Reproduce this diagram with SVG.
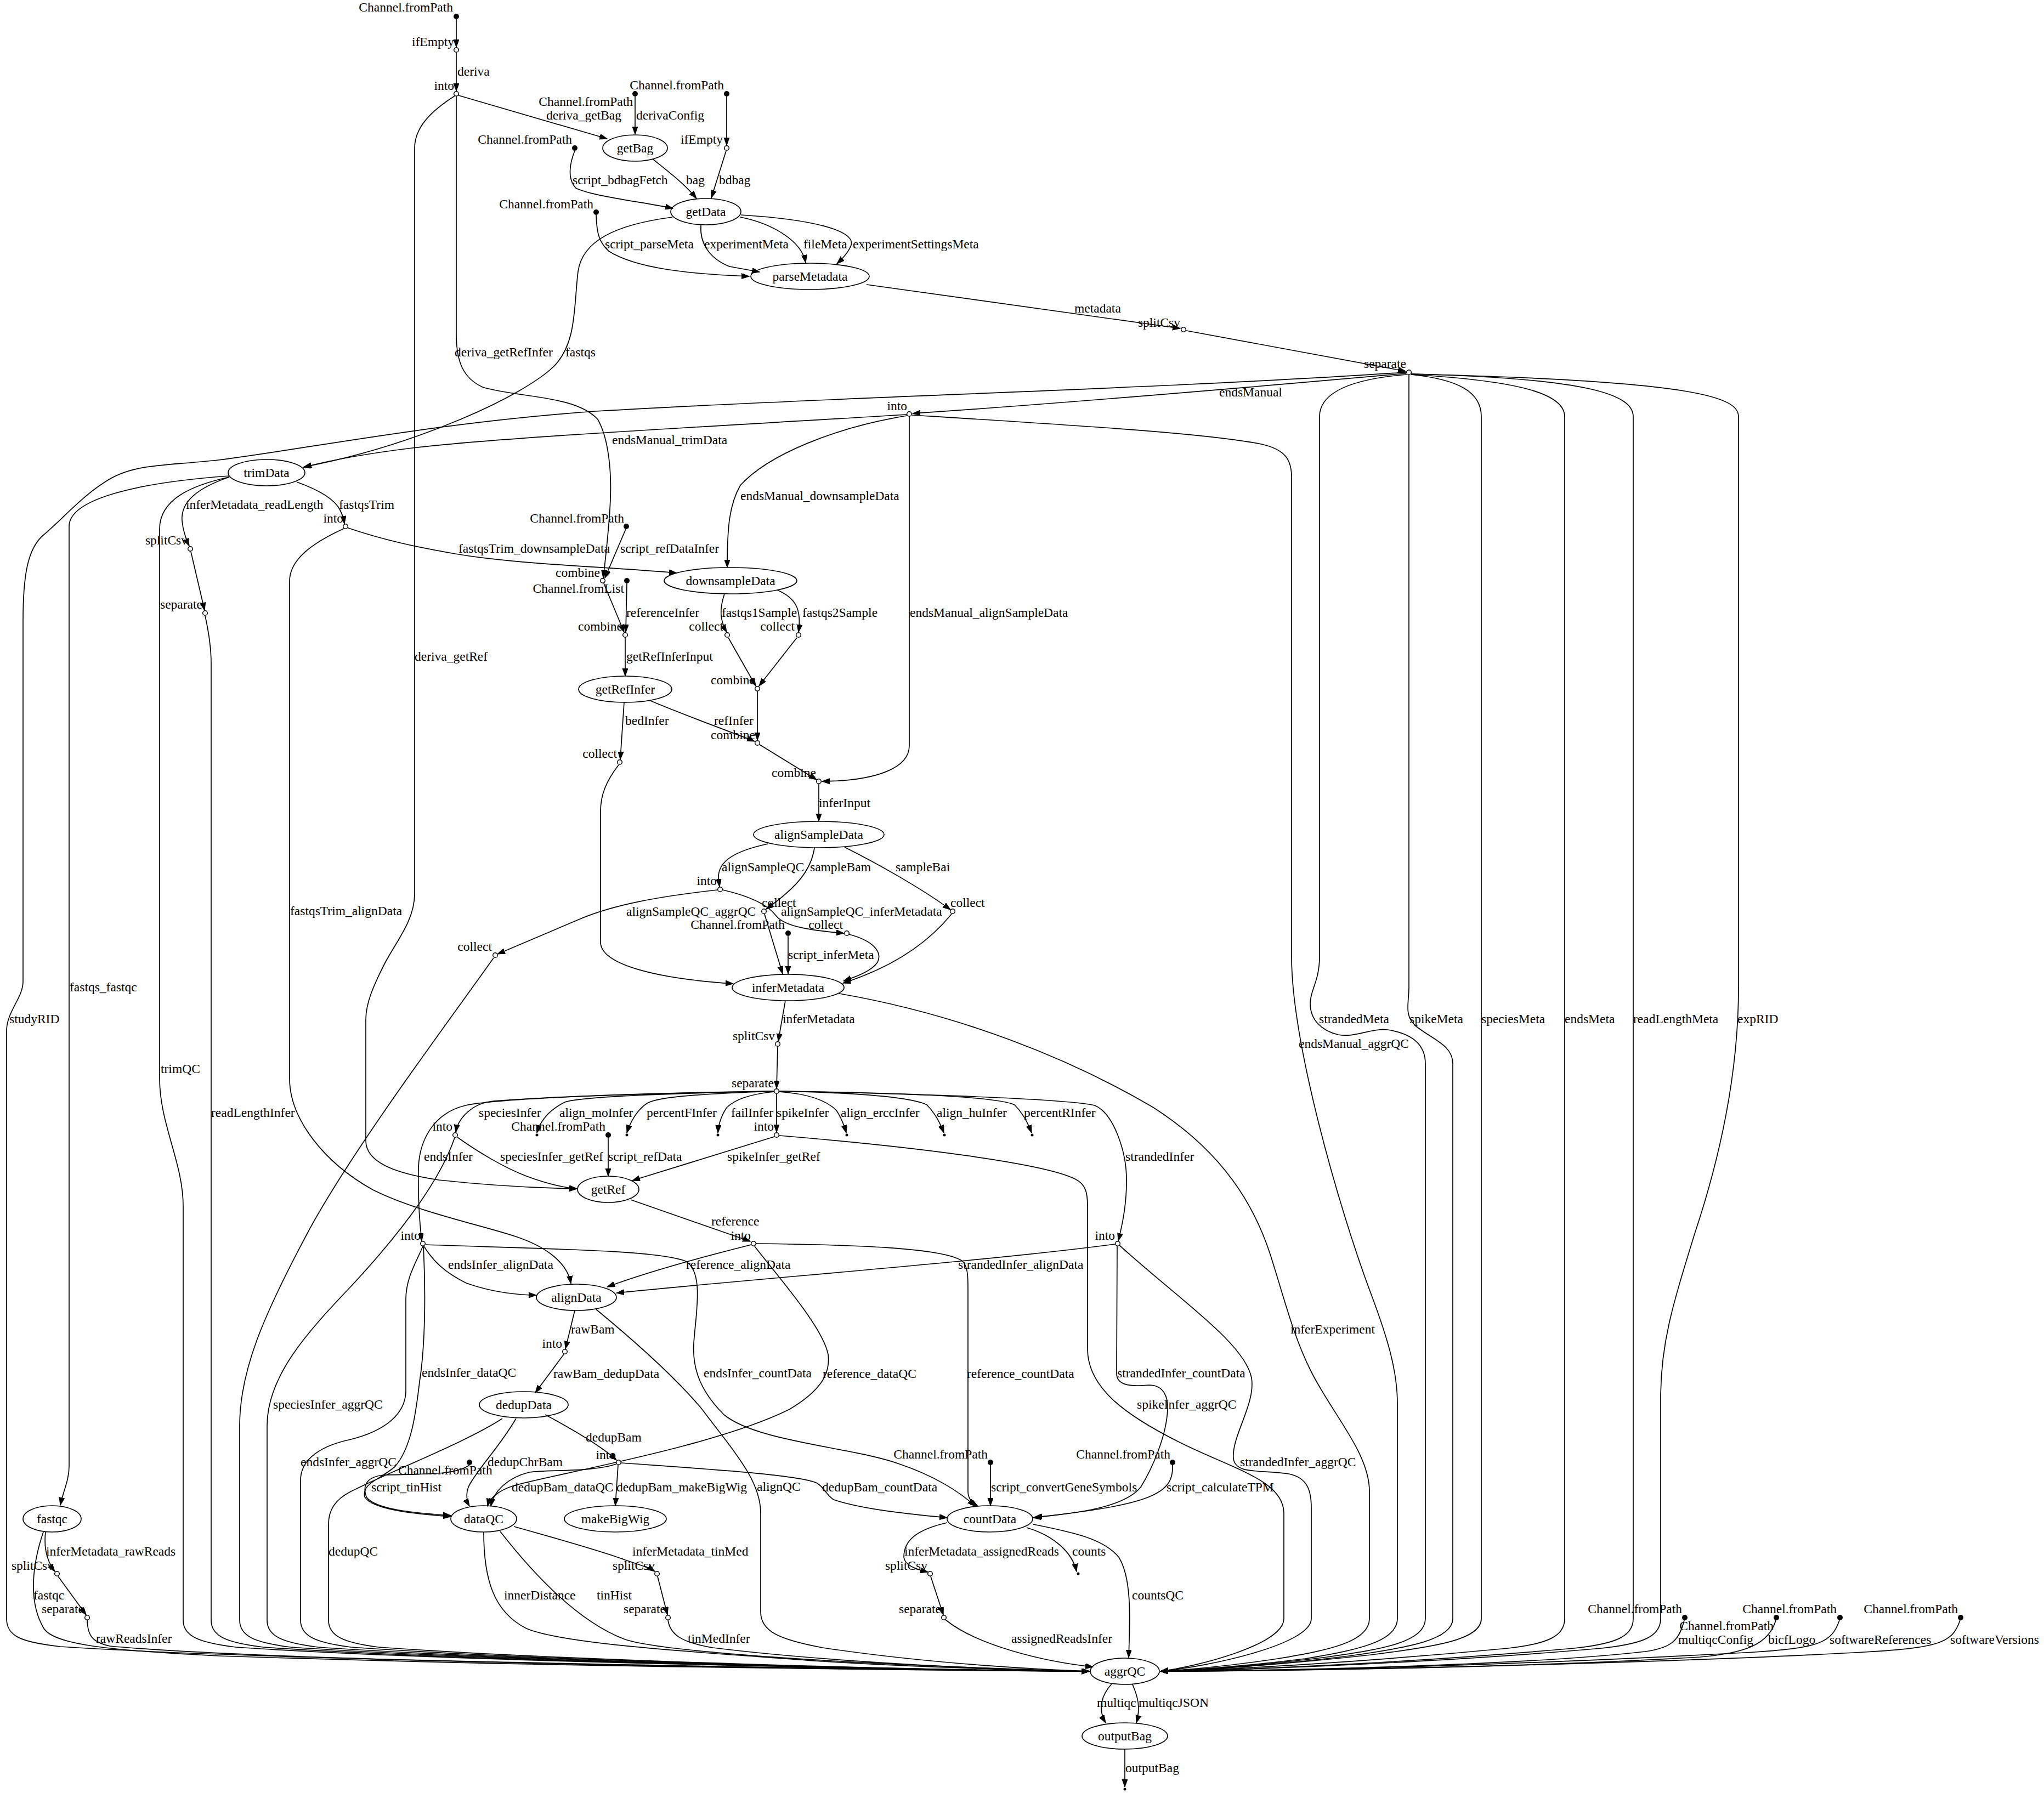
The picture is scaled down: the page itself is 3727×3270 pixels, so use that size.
<svg xmlns="http://www.w3.org/2000/svg" width="3727" height="3270" viewBox="0 0 3727 3270">
<style>
text{font-family:"Liberation Serif","Times New Roman",serif;font-size:23.5px;fill:#000}
.e path{fill:none;stroke:#000;stroke-width:1.7;marker-end:url(#ah)}
.n ellipse{fill:none;stroke:#000;stroke-width:1.7}
.n text{text-anchor:middle}
.op{fill:#fff;stroke:#000;stroke-width:1.5}
.src{fill:#000}
.xl{text-anchor:end}
</style>
<defs>
<marker id="ah" markerUnits="userSpaceOnUse" markerWidth="15" markerHeight="11" refX="14" refY="5" orient="auto"><path d="M0,0 L14,5 L0,10 z" fill="#000" stroke="#000" stroke-width="1"/></marker>
</defs>
<rect width="3727" height="3270" fill="#fff"/>
<g id="edges" class="e">
<path d="M832,35 L832,86"/>
<path d="M832,96 L832,166"/><text x="834" y="138">deriva</text>
<path d="M836,174 L1107,253"/><text x="996" y="218">deriva_getBag</text>
<path d="M1158,176 L1158,245"/><text x="1160" y="218">derivaConfig</text>
<path d="M1325,176 L1325,265"/>
<path d="M1190,290 C1215,310 1248,335 1270,362"/><text x="1251" y="336">bag</text>
<path d="M1324,275 L1297,361"/><text x="1311" y="336">bdbag</text>
<path d="M1048,275 C1040,295 1033,325 1050,343 C1080,358 1170,368 1227,380"/><text x="1044" y="336">script_bdbagFetch</text>
<path d="M1087,392 C1088,420 1090,440 1110,458 C1160,490 1260,500 1366,504"/><text x="1103" y="453">script_parseMeta</text>
<path d="M1278,411 C1276,440 1290,470 1330,486 L1385,496"/><text x="1284" y="453">experimentMeta</text>
<path d="M1350,396 C1410,408 1462,440 1469,479"/><text x="1465" y="453">fileMeta</text>
<path d="M1351,392 C1480,400 1560,420 1552,447 C1548,458 1538,470 1526,481"/><text x="1555" y="453">experimentSettingsMeta</text>
<path d="M1226,396 C1120,410 1062,440 1054,495 C1046,560 1052,625 1010,668 C955,722 760,812 553,852"/><text x="1031" y="650">fastqs</text>
<path d="M1580,519 L2152,599"/><text x="1959" y="570">metadata</text>
<path d="M2163,603 L2563,677"/>
<path d="M2564,681 C2350,700 1950,735 1664,754"/><text x="2223" y="723">endsManual</text>
<path d="M1653,756 C1350,775 950,795 760,816 C660,828 600,840 554,852"/><text x="1116" y="810">endsManual_trimData</text>
<path d="M2564,679 C2100,710 1500,725 1086,750 C800,770 550,820 398,839 C300,850 240,845 190,880 C150,905 110,950 80,975 C50,1000 42,1050 42,1133 L42,1790 C42,1820 12,1845 12,1880 L12,2952 C12,2985 40,2995 110,3003 C500,3030 1700,3046 1986,3048"/><text x="17" y="1866">studyRID</text>
<path d="M2565,683 C2480,690 2406,710 2406,760 L2406,1744 C2406,1790 2389,1805 2389,1830 C2389,1860 2410,1880 2440,1887 C2470,1893 2500,1875 2530,1878 C2575,1885 2599,1905 2599,1940 L2599,2952 C2599,2995 2520,3008 2420,3022 C2280,3040 2170,3046 2116,3048"/><text x="2405" y="1866">strandedMeta</text>
<path d="M2569,684 L2569,1800 C2569,1830 2560,1850 2580,1870 C2610,1895 2649,1905 2649,1940 L2649,2952 C2649,2990 2570,3005 2460,3020 C2300,3040 2170,3046 2116,3048"/><text x="2570" y="1866">spikeMeta</text>
<path d="M2573,683 C2660,692 2701,715 2701,760 L2701,2952 C2701,2990 2620,3003 2500,3018 C2320,3038 2180,3046 2116,3048"/><text x="2701" y="1866">speciesMeta</text>
<path d="M2573,683 C2780,695 2853,720 2853,760 L2853,2952 C2853,2985 2820,2998 2750,3006 C2500,3030 2250,3045 2116,3048"/><text x="2853" y="1866">endsMeta</text>
<path d="M2573,682 C2900,690 2978,720 2978,760 L2978,2952 C2978,2985 2945,2998 2870,3006 C2600,3030 2300,3045 2116,3048"/><text x="2978" y="1866">readLengthMeta</text>
<path d="M2573,682 C3100,695 3170,725 3170,760 L3170,1800 C3170,1950 3140,2100 3090,2250 C3050,2380 3028,2450 3028,2550 L3028,2952 C3028,2985 2995,2998 2920,3006 C2650,3030 2300,3045 2116,3048"/><text x="3168" y="1866">expRID</text>
<path d="M1663,757 C1950,775 2200,790 2300,810 C2345,820 2355,840 2355,870 L2355,1744 C2355,1900 2440,2200 2500,2360 C2530,2440 2548,2500 2548,2560 L2548,2952 C2548,2995 2470,3010 2380,3025 C2260,3040 2160,3046 2116,3048"/><text x="2368" y="1911">endsManual_aggrQC</text>
<path d="M1654,758 C1520,780 1400,830 1350,885 C1330,920 1326,960 1326,1035"/><text x="1350" y="912">endsManual_downsampleData</text>
<path d="M1658,760 L1658,1360 C1658,1400 1600,1424 1499,1425"/><text x="1659" y="1125">endsManual_alignSampleData</text>
<path d="M541,879 C580,893 610,910 620,930 C625,940 627,948 628,955"/><text x="618" y="928">fastqsTrim</text>
<path d="M418,870 C360,890 329,915 332,950 C334,970 340,985 345,996"/><text x="339" y="928">inferMetadata_readLength</text>
<path d="M348,1006 L373,1113"/>
<path d="M374,1123 C380,1150 385,1180 385,1210 L385,2955 C385,2985 415,2996 480,3004 C850,3030 1700,3046 1986,3048"/><text x="385" y="2037">readLengthInfer</text>
<path d="M418,870 C350,885 291,910 291,965 L291,1967 C291,2050 334,2120 334,2200 L334,2955 C334,2985 365,2996 430,3004 C800,3030 1700,3046 1986,3048"/><text x="293" y="1957">trimQC</text>
<path d="M418,868 C250,880 126,910 126,960 L126,2674 C126,2700 115,2720 110,2745"/><text x="127" y="1808">fastqs_fastqc</text>
<path d="M635,963 C700,985 760,998 830,1010 C950,1030 1100,1033 1234,1045"/><text x="836" y="1008">fastqsTrim_downsampleData</text>
<path d="M627,964 C570,990 528,1020 528,1060 L528,1967 C528,2040 590,2120 680,2170 C760,2210 880,2235 940,2255 C1000,2275 1035,2305 1041,2341"/><text x="529" y="1669">fastqsTrim_alignData</text>
<path d="M829,175 C790,200 756,230 756,270 L756,1630 C756,1680 720,1720 700,1760 C680,1800 667,1830 667,1860 L667,2080 C667,2120 720,2140 800,2152 C900,2163 1000,2167 1052,2168"/><text x="756" y="1205">deriva_getRef</text>
<path d="M832,176 L832,610 C832,660 845,690 880,706 C940,725 1050,720 1090,765 C1110,800 1115,860 1113,910 C1111,960 1105,1010 1100,1054"/><text x="829" y="650">deriva_getRefInfer</text>
<path d="M1141,965 L1103,1054"/><text x="1131" y="1008">script_refDataInfer</text>
<path d="M1101,1064 L1138,1153"/>
<path d="M1143,1064 L1141,1153"/><text x="1142" y="1125">referenceInfer</text>
<path d="M1140,1163 L1140,1233"/><text x="1142" y="1205">getRefInferInput</text>
<path d="M1138,1281 L1131,1385"/><text x="1140" y="1322">bedInfer</text>
<path d="M1186,1278 C1250,1305 1320,1330 1376,1352"/><text x="1302" y="1322">refInfer</text>
<path d="M1128,1395 C1105,1425 1095,1450 1095,1480 L1095,1718 C1095,1760 1200,1785 1337,1794"/>
<path d="M1321,1083 C1312,1110 1312,1130 1325,1153"/><text x="1316" y="1125">fastqs1Sample</text>
<path d="M1417,1076 C1450,1090 1462,1110 1456,1153"/><text x="1463" y="1125">fastqs2Sample</text>
<path d="M1328,1163 L1378,1251"/>
<path d="M1453,1163 L1384,1251"/>
<path d="M1381,1261 L1381,1350"/>
<path d="M1385,1358 L1489,1422"/>
<path d="M1493,1430 L1493,1498"/><text x="1493" y="1472">inferInput</text>
<path d="M1400,1539 C1340,1552 1310,1570 1310,1600 L1312,1617"/><text x="1316" y="1589">alignSampleQC</text>
<path d="M1485,1547 C1478,1590 1450,1620 1397,1658"/><text x="1477" y="1589">sampleBam</text>
<path d="M1540,1545 C1600,1575 1680,1620 1733,1659"/><text x="1633" y="1589">sampleBai</text>
<path d="M1308,1623 C1200,1635 1120,1650 1060,1675 C1000,1700 950,1722 907,1740"/><text x="1142" y="1670">alignSampleQC_aggrQC</text>
<path d="M1318,1623 C1370,1635 1400,1650 1415,1670 C1430,1690 1480,1697 1539,1702"/><text x="1424" y="1670">alignSampleQC_inferMetadata</text>
<path d="M1394,1667 L1427,1776"/>
<path d="M1437,1707 L1437,1776"/><text x="1437" y="1749">script_inferMeta</text>
<path d="M1548,1704 C1590,1715 1610,1735 1600,1755 C1590,1770 1565,1780 1538,1789"/>
<path d="M1735,1667 C1700,1710 1640,1760 1537,1793"/>
<path d="M900,1747 C820,1860 640,2100 560,2250 C480,2400 437,2500 437,2600 L437,2955 C437,2985 467,2996 530,3004 C900,3030 1700,3046 1986,3048"/>
<path d="M1432,1825 L1419,1899"/><text x="1427" y="1866">inferMetadata</text>
<path d="M1418,1909 L1416,1985"/>
<path d="M1530,1812 C1750,1850 1950,1930 2100,2018 C2230,2100 2290,2200 2320,2300 C2345,2380 2360,2440 2390,2500 C2430,2580 2497,2650 2497,2720 L2497,2952 C2497,2995 2420,3010 2330,3025 C2230,3040 2150,3046 2116,3048"/><text x="2353" y="2432">inferExperiment</text>
<path d="M1412,1990 C1200,1993 1000,2000 900,2008 C860,2012 835,2040 831,2065"/><text x="873" y="2037">speciesInfer</text>
<path d="M1412,1990 C1200,1995 1060,2000 1030,2010 C1000,2025 985,2045 979,2066"/><text x="1020" y="2037">align_moInfer</text>
<path d="M1412,1990 C1280,1995 1200,2000 1180,2012 C1160,2025 1148,2050 1143,2066"/><text x="1179" y="2037">percentFInfer</text>
<path d="M1412,1991 C1370,1995 1340,2005 1325,2020 C1315,2035 1310,2050 1309,2066"/><text x="1333" y="2037">failInfer</text>
<path d="M1416,1995 L1416,2065"/><text x="1416" y="2037">spikeInfer</text>
<path d="M1420,1991 C1480,1995 1510,2010 1525,2025 C1535,2040 1540,2055 1543,2066"/><text x="1533" y="2037">align_erccInfer</text>
<path d="M1420,1990 C1560,1993 1660,2000 1690,2015 C1705,2030 1715,2050 1721,2066"/><text x="1708" y="2037">align_huInfer</text>
<path d="M1420,1990 C1650,1993 1820,2000 1850,2015 C1865,2030 1875,2050 1881,2066"/><text x="1867" y="2037">percentRInfer</text>
<path d="M1420,1990 C1700,1995 1950,2005 1996,2016 C2030,2030 2055,2100 2054,2156 C2054,2200 2045,2240 2039,2263"/><text x="2052" y="2117">strandedInfer</text>
<path d="M1412,1990 C1100,1995 900,2005 849,2016 C790,2030 765,2080 763,2129 C762,2180 765,2230 769,2263"/><text x="773" y="2117">endsInfer</text>
<path d="M834,2074 C870,2100 920,2130 960,2145 C1000,2160 1030,2166 1052,2168"/><text x="912" y="2117">speciesInfer_getRef</text>
<path d="M1109,2075 L1109,2145"/><text x="1109" y="2117">script_refData</text>
<path d="M1412,2073 L1153,2153"/><text x="1326" y="2117">spikeInfer_getRef</text>
<path d="M1421,2071 C1650,2090 1900,2120 1960,2150 C1980,2160 1983,2175 1983,2200 L1983,2460 C1983,2530 2050,2580 2150,2630 C2250,2680 2341,2700 2341,2760 L2341,2952 C2341,3000 2180,3040 2116,3048"/><text x="2073" y="2569">spikeInfer_aggrQC</text>
<path d="M829,2075 C800,2160 720,2260 640,2346 C560,2430 487,2510 487,2600 L487,2955 C487,2985 517,2996 580,3004 C950,3030 1700,3046 1986,3048"/><text x="498" y="2569">speciesInfer_aggrQC</text>
<path d="M1150,2188 L1368,2264"/><text x="1297" y="2235">reference</text>
<path d="M1370,2270 C1290,2290 1180,2320 1107,2347"/><text x="1251" y="2314">reference_alignData</text>
<path d="M2033,2269 C1800,2300 1400,2330 1124,2358"/><text x="1747" y="2314">strandedInfer_alignData</text>
<path d="M773,2273 C790,2300 810,2320 850,2340 C900,2358 950,2362 978,2362"/><text x="817" y="2314">endsInfer_alignData</text>
<path d="M772,2273 C776,2350 776,2450 765,2520 C758,2580 750,2640 720,2675 C690,2700 660,2705 665,2730 C680,2755 770,2762 822,2766"/><text x="769" y="2511">endsInfer_dataQC</text>
<path d="M776,2270 C1000,2278 1200,2280 1250,2300 C1285,2320 1268,2400 1265,2450 C1262,2500 1280,2540 1320,2580 C1380,2630 1560,2640 1640,2670 C1700,2690 1750,2720 1778,2747"/><text x="1283" y="2512">endsInfer_countData</text>
<path d="M771,2273 C760,2300 740,2330 740,2370 L740,2536 C740,2580 700,2610 640,2625 C570,2640 548,2670 548,2700 L548,2955 C548,2985 578,2996 640,3004 C1000,3030 1700,3046 1986,3048"/><text x="548" y="2674">endsInfer_aggrQC</text>
<path d="M1376,2273 C1420,2330 1500,2420 1510,2470 C1515,2510 1490,2540 1440,2570 C1300,2640 1000,2690 935,2710 C905,2720 892,2735 889,2747"/><text x="1500" y="2513">reference_dataQC</text>
<path d="M1378,2268 C1550,2270 1720,2275 1755,2300 C1765,2310 1765,2330 1765,2350 L1765,2720 C1765,2735 1775,2742 1783,2747"/><text x="1763" y="2513">reference_countData</text>
<path d="M2037,2273 L2036,2505 C2036,2530 2070,2528 2095,2526 C2120,2526 2130,2545 2129,2570 C2127,2620 2100,2680 2080,2712 C2050,2750 1960,2760 1884,2768"/><text x="2037" y="2512">strandedInfer_countData</text>
<path d="M2041,2271 C2150,2370 2270,2450 2282,2513 C2290,2560 2245,2620 2249,2660 C2253,2690 2300,2680 2350,2688 C2385,2695 2391,2720 2391,2750 L2391,2952 C2391,3000 2200,3040 2116,3048"/><text x="2261" y="2674">strandedInfer_aggrQC</text>
<path d="M1048,2390 L1031,2460"/><text x="1041" y="2432">rawBam</text>
<path d="M1087,2388 C1150,2440 1230,2510 1280,2570 C1340,2650 1387,2700 1387,2760 L1387,2940 C1387,2975 1420,2990 1500,3005 C1700,3035 1900,3045 1986,3048"/><text x="1380" y="2719">alignQC</text>
<path d="M1028,2470 L976,2540"/><text x="1009" y="2513">rawBam_dedupData</text>
<path d="M994,2580 C1050,2610 1100,2640 1124,2663"/><text x="1068" y="2629">dedupBam</text>
<path d="M941,2587 C910,2640 870,2680 855,2710 C848,2725 852,2740 856,2747"/><text x="889" y="2674">dedupChrBam</text>
<path d="M916,2587 C850,2630 720,2680 640,2720 C610,2735 599,2755 599,2780 L599,2955 C599,2985 629,2996 690,3004 C1050,3030 1700,3046 1986,3048"/><text x="599" y="2837">dedupQC</text>
<path d="M1124,2670 C1080,2685 1000,2680 965,2685 C925,2695 900,2720 895,2747"/><text x="933" y="2720">dedupBam_dataQC</text>
<path d="M1127,2672 L1122,2746"/><text x="1124" y="2720">dedupBam_makeBigWig</text>
<path d="M1133,2668 C1300,2680 1460,2690 1490,2705 C1505,2715 1505,2725 1520,2735 C1580,2755 1680,2763 1727,2768"/><text x="1499" y="2720">dedupBam_countData</text>
<path d="M856,2672 C830,2690 780,2688 700,2690 C670,2693 660,2708 668,2730 C685,2755 770,2760 822,2764"/><text x="677" y="2720">script_tinHist</text>
<path d="M1806,2672 L1806,2746"/><text x="1807" y="2720">script_convertGeneSymbols</text>
<path d="M2138,2672 C2140,2720 2110,2745 1886,2767"/><text x="2127" y="2720">script_calculateTPM</text>
<path d="M937,2784 C1030,2810 1100,2830 1140,2845 C1170,2855 1185,2860 1194,2866"/><text x="1153" y="2837">inferMetadata_tinMed</text>
<path d="M882,2794 C882,2880 900,2940 960,2970 C1030,3000 1300,3015 1500,3030 C1700,3042 1900,3047 1986,3048"/><text x="919" y="2917">innerDistance</text>
<path d="M912,2793 C980,2880 1060,2960 1140,2990 C1200,3010 1500,3035 1986,3048"/><text x="1088" y="2917">tinHist</text>
<path d="M1199,2875 L1217,2945"/>
<path d="M1218,2955 C1222,2980 1240,2995 1300,3005 C1500,3030 1800,3045 1986,3048"/><text x="1254" y="2996">tinMedInfer</text>
<path d="M83,2794 C80,2820 84,2845 100,2866"/><text x="84" y="2837">inferMetadata_rawReads</text>
<path d="M79,2794 C60,2850 50,2920 80,2970 C100,3000 200,3010 400,3020 C1000,3040 1700,3046 1986,3048"/><text x="61" y="2917">fastqc</text>
<path d="M106,2875 L157,2945"/>
<path d="M159,2955 C160,2985 170,2995 200,3002 C500,3030 1500,3045 1986,3048"/><text x="175" y="2996">rawReadsInfer</text>
<path d="M1727,2777 C1670,2790 1648,2810 1648,2840 C1650,2855 1670,2862 1692,2867"/><text x="1649" y="2837">inferMetadata_assignedReads</text>
<path d="M1872,2786 C1920,2800 1955,2830 1963,2866"/><text x="1955" y="2837">counts</text>
<path d="M1884,2780 C1960,2795 2013,2807 2040,2840 C2065,2880 2060,2960 2058,3023"/><text x="2064" y="2917">countsQC</text>
<path d="M1697,2875 L1720,2945"/>
<path d="M1724,2954 C1780,3000 1900,3030 1993,3040"/><text x="1844" y="2996">assignedReadsInfer</text>
<path d="M2027,3071 C2010,3090 2000,3115 2016,3142"/><text x="2000" y="3113">multiqc</text>
<path d="M2065,3072 C2075,3095 2080,3115 2072,3142"/><text x="2076" y="3113">multiqcJSON</text>
<path d="M2051,3190 L2051,3259"/><text x="2052" y="3232">outputBag</text>
<path d="M3071,2955 C3062,2990 3050,3005 3000,3012 C2800,3035 2400,3046 2116,3048"/><text x="3060" y="2998">multiqcConfig</text>
<path d="M3238,2955 C3225,3000 3180,3015 3100,3022 C2800,3040 2400,3047 2116,3048"/><text x="3224" y="2998">bicfLogo</text>
<path d="M3354,2955 C3340,2995 3320,3005 3200,3013 C2800,3035 2400,3047 2116,3048"/><text x="3336" y="2998">softwareReferences</text>
<path d="M3574,2955 C3560,2995 3540,3005 3400,3013 C3000,3035 2400,3047 2116,3048"/><text x="3556" y="2998">softwareVersions</text>
</g>
<g id="n_getBag" class="n"><ellipse cx="1158" cy="270" rx="59" ry="24"/><text x="1158" y="278">getBag</text></g>
<g id="n_getData" class="n"><ellipse cx="1287" cy="386" rx="64" ry="24"/><text x="1287" y="394">getData</text></g>
<g id="n_parseMetadata" class="n"><ellipse cx="1477" cy="504" rx="108" ry="24"/><text x="1477" y="512">parseMetadata</text></g>
<g id="n_trimData" class="n"><ellipse cx="486" cy="862" rx="70" ry="24"/><text x="486" y="870">trimData</text></g>
<g id="n_downsampleData" class="n"><ellipse cx="1332" cy="1059" rx="121" ry="24"/><text x="1332" y="1067">downsampleData</text></g>
<g id="n_getRefInfer" class="n"><ellipse cx="1140" cy="1257" rx="85" ry="24"/><text x="1140" y="1265">getRefInfer</text></g>
<g id="n_alignSampleData" class="n"><ellipse cx="1493" cy="1522" rx="119" ry="24"/><text x="1493" y="1530">alignSampleData</text></g>
<g id="n_inferMetadata" class="n"><ellipse cx="1437" cy="1801" rx="102" ry="24"/><text x="1437" y="1809">inferMetadata</text></g>
<g id="n_getRef" class="n"><ellipse cx="1109" cy="2169" rx="56" ry="24"/><text x="1109" y="2177">getRef</text></g>
<g id="n_alignData" class="n"><ellipse cx="1051" cy="2366" rx="73" ry="24"/><text x="1051" y="2374">alignData</text></g>
<g id="n_dedupData" class="n"><ellipse cx="955" cy="2562" rx="81" ry="24"/><text x="955" y="2570">dedupData</text></g>
<g id="n_dataQC" class="n"><ellipse cx="882" cy="2770" rx="60" ry="24"/><text x="882" y="2778">dataQC</text></g>
<g id="n_makeBigWig" class="n"><ellipse cx="1122" cy="2770" rx="93" ry="24"/><text x="1122" y="2778">makeBigWig</text></g>
<g id="n_countData" class="n"><ellipse cx="1805" cy="2770" rx="78" ry="24"/><text x="1805" y="2778">countData</text></g>
<g id="n_fastqc" class="n"><ellipse cx="95" cy="2770" rx="53" ry="24"/><text x="95" y="2778">fastqc</text></g>
<g id="n_aggrQC" class="n"><ellipse cx="2051" cy="3048" rx="63" ry="24"/><text x="2051" y="3056">aggrQC</text></g>
<g id="n_outputBag" class="n"><ellipse cx="2051" cy="3166" rx="78" ry="24"/><text x="2051" y="3174">outputBag</text></g>
<g id="p1"><circle class="src" cx="832" cy="30" r="5"/><text class="xl" x="826" y="21">Channel.fromPath</text></g>
<g id="p2"><circle class="op" cx="832" cy="91" r="4.3"/><text class="xl" x="828" y="84">ifEmpty</text></g>
<g id="p3"><circle class="op" cx="832" cy="171" r="4.3"/><text class="xl" x="828" y="164">into</text></g>
<g id="p4"><circle class="src" cx="1158" cy="171" r="5"/><text class="xl" x="1154" y="193">Channel.fromPath</text></g>
<g id="p5"><circle class="src" cx="1325" cy="171" r="5"/><text class="xl" x="1320" y="163">Channel.fromPath</text></g>
<g id="p6"><circle class="op" cx="1325" cy="270" r="4.3"/><text class="xl" x="1318" y="262">ifEmpty</text></g>
<g id="p7"><circle class="src" cx="1048" cy="270" r="5"/><text class="xl" x="1043" y="262">Channel.fromPath</text></g>
<g id="p8"><circle class="src" cx="1087" cy="387" r="5"/><text class="xl" x="1082" y="380">Channel.fromPath</text></g>
<g id="p9"><circle class="op" cx="2158" cy="601" r="4.3"/><text class="xl" x="2152" y="596">splitCsv</text></g>
<g id="p10"><circle class="op" cx="2569" cy="679" r="4.3"/><text class="xl" x="2564" y="671">separate</text></g>
<g id="p11"><circle class="op" cx="1658" cy="755" r="4.3"/><text class="xl" x="1654" y="748">into</text></g>
<g id="p12"><circle class="op" cx="630" cy="960" r="4.3"/><text class="xl" x="626" y="953">into</text></g>
<g id="p13"><circle class="op" cx="347" cy="1001" r="4.3"/><text class="xl" x="342" y="993">splitCsv</text></g>
<g id="p14"><circle class="op" cx="374" cy="1118" r="4.3"/><text class="xl" x="369" y="1110">separate</text></g>
<g id="p15"><circle class="src" cx="1142" cy="960" r="5"/><text class="xl" x="1138" y="953">Channel.fromPath</text></g>
<g id="p16"><circle class="op" cx="1099" cy="1059" r="4.3"/><text class="xl" x="1094" y="1052">combine</text></g>
<g id="p17"><circle class="src" cx="1143" cy="1059" r="5"/><text class="xl" x="1138" y="1081">Channel.fromList</text></g>
<g id="p18"><circle class="op" cx="1140" cy="1158" r="4.3"/><text class="xl" x="1135" y="1150">combine</text></g>
<g id="p19"><circle class="op" cx="1130" cy="1390" r="4.3"/><text class="xl" x="1125" y="1382">collect</text></g>
<g id="p20"><circle class="op" cx="1326" cy="1158" r="4.3"/><text class="xl" x="1319" y="1150">collect</text></g>
<g id="p21"><circle class="op" cx="1456" cy="1158" r="4.3"/><text class="xl" x="1449" y="1150">collect</text></g>
<g id="p22"><circle class="op" cx="1381" cy="1256" r="4.3"/><text class="xl" x="1377" y="1248">combine</text></g>
<g id="p23"><circle class="op" cx="1381" cy="1355" r="4.3"/><text class="xl" x="1377" y="1348">combine</text></g>
<g id="p24"><circle class="op" cx="1493" cy="1425" r="4.3"/><text class="xl" x="1488" y="1417">combine</text></g>
<g id="p25"><circle class="op" cx="1313" cy="1622" r="4.3"/><text class="xl" x="1307" y="1614">into</text></g>
<g id="p26"><circle class="op" cx="1393" cy="1662" r="4.3"/><text x="1389" y="1654">collect</text></g>
<g id="p27"><circle class="op" cx="1544" cy="1702" r="4.3"/><text class="xl" x="1537" y="1694">collect</text></g>
<g id="p28"><circle class="op" cx="1737" cy="1662" r="4.3"/><text x="1733" y="1654">collect</text></g>
<g id="p29"><circle class="src" cx="1437" cy="1702" r="5"/><text class="xl" x="1431" y="1694">Channel.fromPath</text></g>
<g id="p30"><circle class="op" cx="903" cy="1742" r="4.3"/><text class="xl" x="897" y="1734">collect</text></g>
<g id="p31"><circle class="op" cx="1418" cy="1904" r="4.3"/><text class="xl" x="1413" y="1897">splitCsv</text></g>
<g id="p32"><circle class="op" cx="1416" cy="1990" r="4.3"/><text class="xl" x="1411" y="1983">separate</text></g>
<g id="p33"><circle class="op" cx="830" cy="2070" r="4.3"/><text class="xl" x="825" y="2062">into</text></g>
<g id="p34"><circle class="src" cx="979" cy="2070" r="2.5"/></g>
<g id="p35"><circle class="src" cx="1109" cy="2070" r="5"/><text class="xl" x="1104" y="2062">Channel.fromPath</text></g>
<g id="p36"><circle class="src" cx="1143" cy="2070" r="2.5"/></g>
<g id="p37"><circle class="src" cx="1309" cy="2070" r="2.5"/></g>
<g id="p38"><circle class="op" cx="1416" cy="2070" r="4.3"/><text class="xl" x="1411" y="2062">into</text></g>
<g id="p39"><circle class="src" cx="1544" cy="2070" r="2.5"/></g>
<g id="p40"><circle class="src" cx="1722" cy="2070" r="2.5"/></g>
<g id="p41"><circle class="src" cx="1882" cy="2070" r="2.5"/></g>
<g id="p42"><circle class="op" cx="771" cy="2268" r="4.3"/><text class="xl" x="767" y="2261">into</text></g>
<g id="p43"><circle class="op" cx="1374" cy="2268" r="4.3"/><text class="xl" x="1369" y="2261">into</text></g>
<g id="p44"><circle class="op" cx="2038" cy="2268" r="4.3"/><text class="xl" x="2033" y="2261">into</text></g>
<g id="p45"><circle class="op" cx="1030" cy="2465" r="4.3"/><text class="xl" x="1025" y="2458">into</text></g>
<g id="p46"><circle class="op" cx="1128" cy="2667" r="4.3"/><text class="xl" x="1123" y="2661">into</text></g>
<g id="p47"><circle class="src" cx="856" cy="2667" r="5"/><text x="726" y="2689">Channel.fromPath</text></g>
<g id="p48"><circle class="src" cx="1806" cy="2667" r="5"/><text class="xl" x="1801" y="2660">Channel.fromPath</text></g>
<g id="p49"><circle class="src" cx="2138" cy="2667" r="5"/><text class="xl" x="2134" y="2660">Channel.fromPath</text></g>
<g id="p50"><circle class="op" cx="104" cy="2870" r="4.3"/><text class="xl" x="98" y="2863">splitCsv</text></g>
<g id="p51"><circle class="op" cx="159" cy="2950" r="4.3"/><text class="xl" x="153" y="2942">separate</text></g>
<g id="p52"><circle class="op" cx="1198" cy="2870" r="4.3"/><text class="xl" x="1194" y="2863">splitCsv</text></g>
<g id="p53"><circle class="op" cx="1218" cy="2950" r="4.3"/><text class="xl" x="1214" y="2942">separate</text></g>
<g id="p54"><circle class="op" cx="1696" cy="2870" r="4.3"/><text class="xl" x="1691" y="2863">splitCsv</text></g>
<g id="p55"><circle class="op" cx="1721" cy="2950" r="4.3"/><text class="xl" x="1716" y="2942">separate</text></g>
<g id="p56"><circle class="src" cx="1966" cy="2870" r="2.5"/></g>
<g id="p57"><circle class="src" cx="3072" cy="2950" r="5"/><text class="xl" x="3067" y="2942">Channel.fromPath</text></g>
<g id="p58"><circle class="src" cx="3239" cy="2950" r="5"/><text class="xl" x="3234" y="2973">Channel.fromPath</text></g>
<g id="p59"><circle class="src" cx="3355" cy="2950" r="5"/><text class="xl" x="3349" y="2942">Channel.fromPath</text></g>
<g id="p60"><circle class="src" cx="3575" cy="2950" r="5"/><text class="xl" x="3570" y="2942">Channel.fromPath</text></g>
<g id="p61"><circle class="src" cx="2051" cy="3263" r="2.5"/></g>
</svg>
